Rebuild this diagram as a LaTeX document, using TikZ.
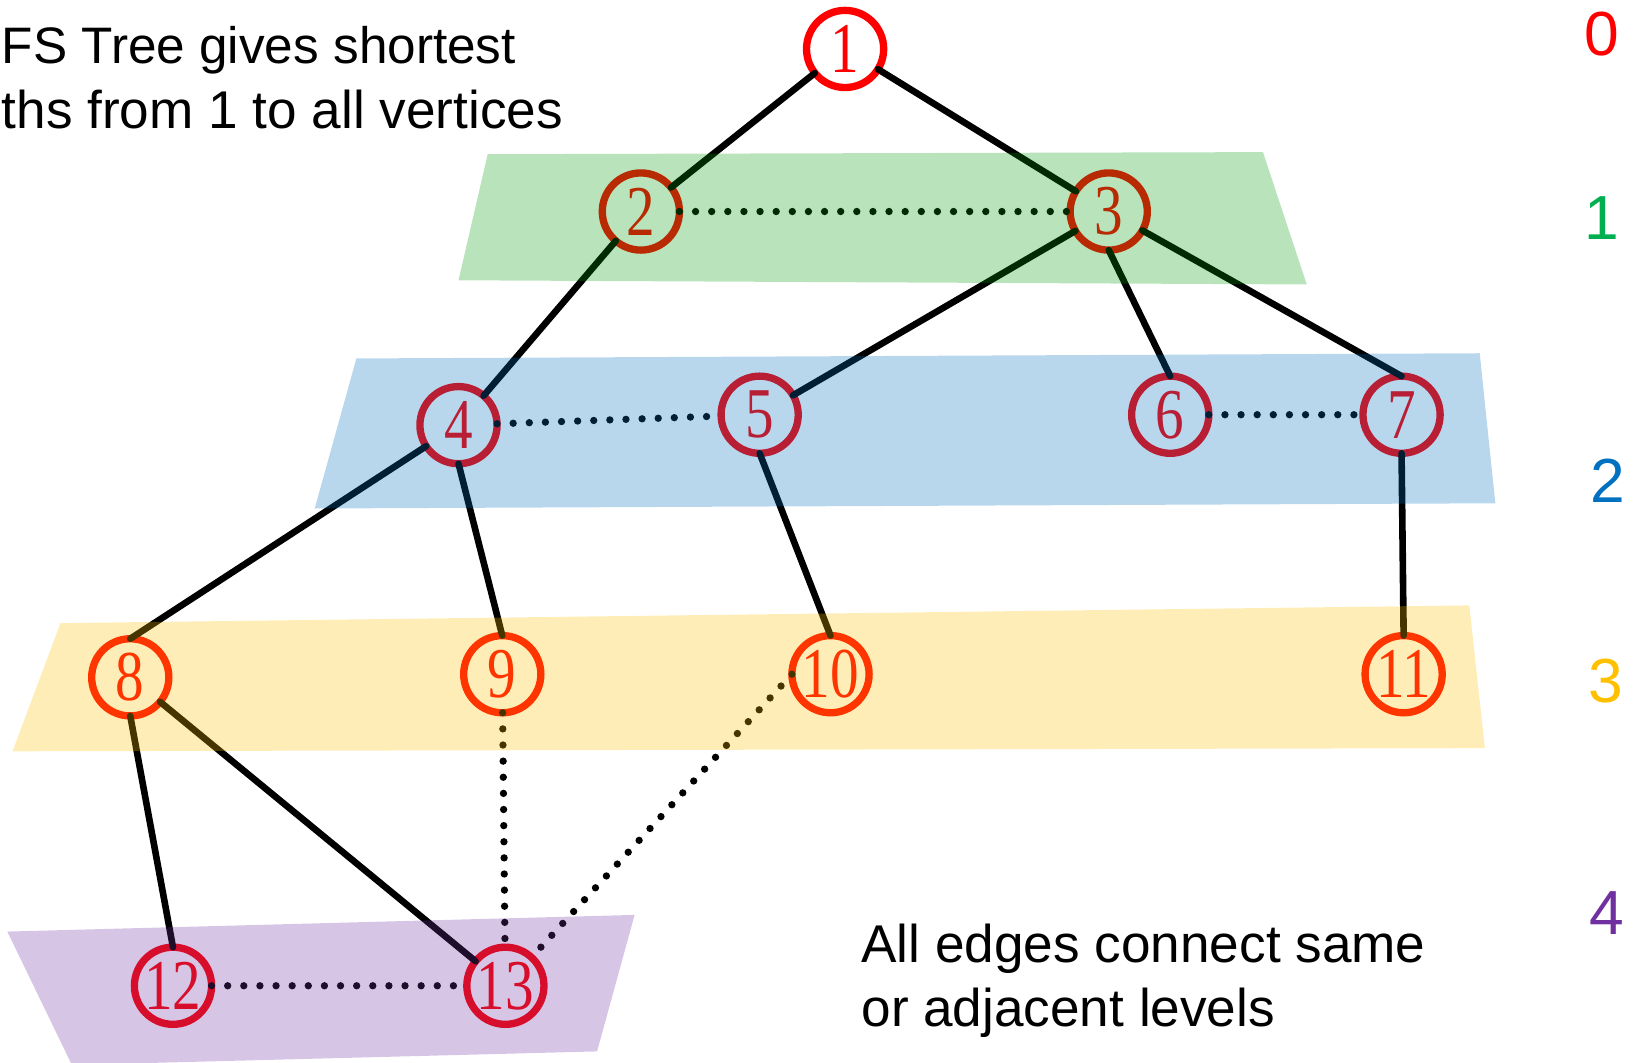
\documentclass[tikz,border=0pt]{standalone}
\usepackage{fontspec}
\setmainfont{Liberation Sans}
\newfontfamily\numfont[FakeStretch=0.8]{Liberation Serif}
\usepackage{tikz}
\usetikzlibrary{positioning}
\definecolor{lvlred}{RGB}{255,0,0}
\definecolor{lvlgreen}{RGB}{0,176,80}
\definecolor{bandgreen}{RGB}{0,153,10}
\definecolor{lvlblue}{RGB}{0,112,192}
\definecolor{lvlyellow}{RGB}{255,192,0}
\definecolor{lvlpurple}{RGB}{112,48,160}

\begin{document}
\begin{tikzpicture}[x=0.01cm,y=-0.01cm,
  main node/.style={circle,draw=lvlred,text=lvlred,line width=2pt,minimum size=0.74cm,
    inner sep=0pt,outer sep=0pt,font=\numfont\fontsize{19.5}{19.5}\selectfont},
  tree edge/.style={line width=1.8pt,line cap=round},
  cross edge/.style={line width=2pt,line cap=round,dash pattern=on 0pt off 4.4pt},
  band/.style={fill opacity=0.28},
  level/.style={font=\fontsize{17}{17}\selectfont},
  note/.style={font=\fontsize{14.5}{17.6}\selectfont,inner sep=0pt}]

  \useasboundingbox (0,0) rectangle (1570,1019.5);

  % vertices
  \node[main node] (1) at (811,47) {1};
  \node[main node] (2) at (615,203) {2};
  \node[main node] (3) at (1064,203) {3};
  \node[main node] (4) at (440,408) {4};
  \node[main node] (5) at (729,398) {5};
  \node[main node] (6) at (1123,398) {6};
  \node[main node] (7) at (1345,398) {7};
  \node[main node] (8) at (125,650) {8};
  \node[main node] (9) at (482,647) {9};
  \node[main node] (10) at (797,647) {10};
  \node[main node] (11) at (1347,647) {11};
  \node[main node] (12) at (166,946) {12};
  \node[main node] (13) at (485,946) {13};

  \path[tree edge]
    (1) edge (2)
    (1) edge (3)
    (2) edge (4)
    (3) edge (5)
    (3.south) edge (6.north)
    (3) edge (7.north)
    (4) edge (8.north)
    (4.south) edge (9.north)
    (5.south) edge (10.north)
    (7.south) edge (11.north)
    (8.south) edge (12.north)
    (8) edge (13);

  \path[cross edge]
    (2) edge (3)
    (4) edge (5)
    (6) edge (7)
    (9) edge (13)
    (10.west) edge (13)
    (12) edge (13);

  % levels
  \fill[bandgreen,band] (468,148) -- (1212,146) -- (1254,273) -- (440,269) -- cycle;
  \fill[lvlblue,band] (342,344) -- (1420,339) -- (1435,483) -- (302,488) -- cycle;
  \fill[lvlyellow,band] (58,598) -- (1410,581) -- (1425,718) -- (12,721) -- cycle;
  \fill[lvlpurple,band] (7,894) -- (609,878) -- (573,1009) -- (69,1022) -- cycle;

  \node[level,text=lvlred] (l0) at (1537,33) {0};
  \node[level,text=lvlgreen] (l1) at (1537,209) {1};
  \node[level,text=lvlblue] (l2) at (1543,461) {2};
  \node[level,text=lvlyellow] (l3) at (1541,654) {3};
  \node[level,text=lvlpurple] (l4) at (1542,876) {4};

  \node[note,font=\fontsize{14}{17.6}\selectfont,anchor=base west] (note1) at (1,61) {FS Tree gives shortest};
  \node[note,anchor=base west] (note2) at (1,123) {ths from 1 to all vertices};
  \node[note,anchor=base west] (note3) at (826,924) {All edges connect same};
  \node[note,anchor=base west] (note4) at (826,985) {or adjacent levels};
\end{tikzpicture}
\end{document}
